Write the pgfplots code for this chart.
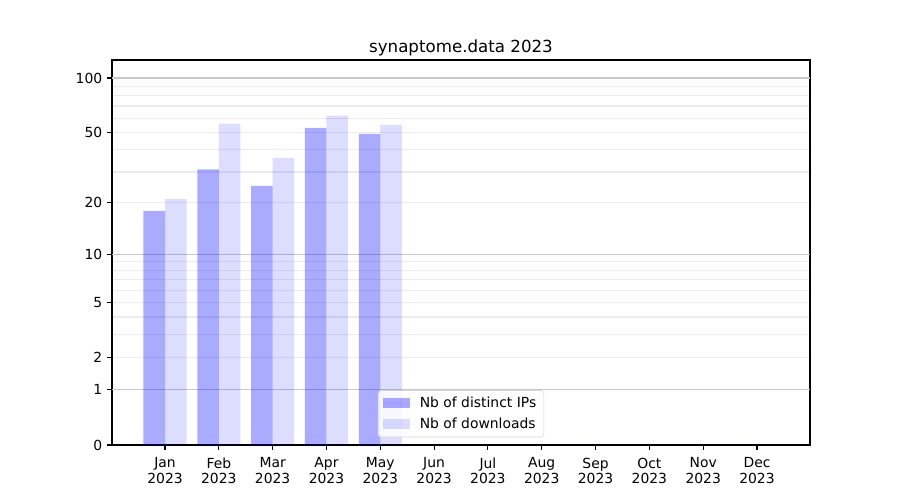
\documentclass[border=0pt]{standalone}
\usepackage{pgfplots}
\pgfplotsset{compat=1.18}
\usepackage{fontspec}
\setmainfont{DejaVu Sans}
\definecolor{majgrid}{RGB}{200,200,200}
\definecolor{mingrid}{RGB}{235,235,235}
\definecolor{legedge}{RGB}{204,204,204}
\begin{document}
\begin{tikzpicture}
\path[use as bounding box] (0,0) rectangle (648pt,360pt);
\begin{axis}[
  at={(80.64pt,39.6pt)}, anchor=south west,
  scale only axis, width=502.56pt, height=277.2pt,
  xmin=-0.985, xmax=11.985, ymin=0, ymax=125.7,
  y coord trafo/.code={\pgfmathparse{ln(#1+1)*0.4342944819}},
  y coord inv trafo/.code={\pgfmathparse{exp(#1*2.302585093)-1}},
  xtick={0,1,2,3,4,5,6,7,8,9,10,11},
  xticklabels={Jan\\2023,Feb\\2023,Mar\\2023,Apr\\2023,May\\2023,Jun\\2023,Jul\\2023,Aug\\2023,Sep\\2023,Oct\\2023,Nov\\2023,Dec\\2023},
  xticklabel style={align=center, font=\fontsize{10}{11.2}\selectfont, yshift=-2.2pt},
  ytick={0,1,2,5,10,20,50,100},
  yticklabels={0,1,2,5,10,20,50,100},
  yticklabel style={font=\fontsize{10}{12}\selectfont},
  minor ytick={2,3,4,5,6,7,8,9,20,30,40,50,60,70,80,90},
  yminorgrids=true,
  minor grid style={draw=mingrid, line width=0.8pt},
  major grid style={draw=majgrid, line width=0.8pt},
  minor tick length=0pt,
  extra y ticks={1,10,100},
  extra y tick labels={},
  extra y tick style={grid=major, major tick length=0pt},
  tick align=outside,
  major tick length=3.5pt,
  tick style={black, line width=0.8pt},
  xtick pos=bottom, ytick pos=left,
  axis line style={line width=0.8pt},
  title={synaptome.data 2023},
  title style={font=\fontsize{12}{14}\selectfont, at={(0.5,1)}, anchor=base, yshift=-0.7pt},
  legend style={at={(0.5,0.02)}, anchor=south, draw=legedge, rounded corners=2pt,
    fill=white, fill opacity=0.8, draw opacity=0.8, text opacity=1,
    font=\fontsize{10}{12}\selectfont, inner xsep=3.5pt, inner ysep=2.5pt, row sep=2.3pt},
  legend cell align=left,
]
\addplot[ybar, bar width=0.4, bar shift=-0.2, fill=blue, fill opacity=0.333, draw=none,
  legend image code/.code={\fill[sharp corners, blue, fill opacity=0.333] (0pt,-3.6pt) rectangle (19.4pt,3.6pt); \path (0pt,0pt) -- (24.5pt,0pt);}]
  coordinates {(0,18) (1,31) (2,25) (3,53) (4,49) (5,0) (6,0) (7,0) (8,0) (9,0) (10,0) (11,0)};
\addlegendentry{Nb of distinct IPs}
\addplot[ybar, bar width=0.4, bar shift=0.2, fill=blue, fill opacity=0.133, draw=none,
  legend image code/.code={\fill[sharp corners, blue, fill opacity=0.133] (0pt,-3.6pt) rectangle (19.4pt,3.6pt); \path (0pt,0pt) -- (24.5pt,0pt);}]
  coordinates {(0,21) (1,56) (2,36) (3,62) (4,55) (5,0) (6,0) (7,0) (8,0) (9,0) (10,0) (11,0)};
\addlegendentry{Nb of downloads}
\end{axis}
\end{tikzpicture}
\end{document}
